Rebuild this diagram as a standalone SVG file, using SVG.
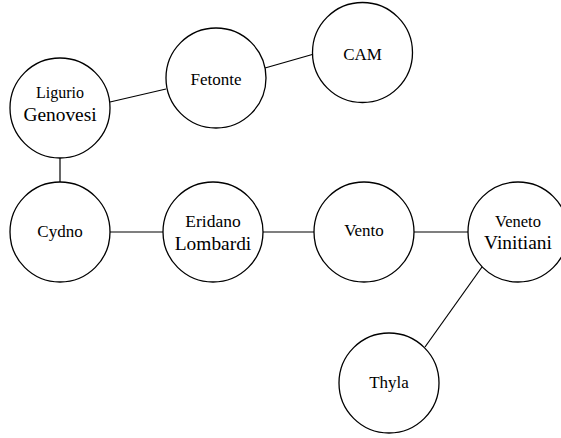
<svg xmlns="http://www.w3.org/2000/svg" width="561" height="438" viewBox="0 0 561 438">
<style>
.n{fill:#fff;stroke:#000;stroke-width:1.3}
.e{stroke:#000;stroke-width:1.2;fill:none}
text{font-family:'Liberation Serif','Times New Roman',serif;fill:#000;text-anchor:middle}
.s{font-size:17px}
.b{font-size:19.4px}
</style>
<rect width="561" height="438" fill="#fff"/>
<g id="edges">
<line class="e" x1="110" y1="102" x2="166" y2="89"/>
<line class="e" x1="265" y1="68" x2="314" y2="54"/>
<line class="e" x1="60" y1="158" x2="60" y2="182"/>
<line class="e" x1="110" y1="232" x2="163" y2="232"/>
<line class="e" x1="263" y1="232" x2="314" y2="232"/>
<line class="e" x1="414" y1="232" x2="468" y2="232"/>
<line class="e" x1="482" y1="267" x2="425" y2="347"/>
</g>
<g id="ligurio"><circle class="n" cx="60" cy="108" r="50"/><text x="60" y="98" font-size="16">Ligurio</text><text class="b" x="60" y="121">Genovesi</text></g>
<g id="fetonte"><circle class="n" cx="216" cy="78" r="50"/><text class="s" x="216" y="85">Fetonte</text></g>
<g id="cam"><circle class="n" cx="362.5" cy="52.5" r="50"/><text class="s" x="362.5" y="60">CAM</text></g>
<g id="cydno"><circle class="n" cx="60" cy="232" r="50"/><text class="s" x="60" y="237">Cydno</text></g>
<g id="eridano"><circle class="n" cx="213" cy="232" r="50"/><text x="213" y="227" font-size="17.5">Eridano</text><text class="b" x="213" y="250">Lombardi</text></g>
<g id="vento"><circle class="n" cx="364" cy="232" r="50"/><text class="s" x="364" y="236">Vento</text></g>
<g id="veneto"><circle class="n" cx="518" cy="232" r="50"/><text x="518" y="227" font-size="16.5">Veneto</text><text class="b" x="518" y="249">Vinitiani</text></g>
<g id="thyla"><circle class="n" cx="389" cy="383" r="50"/><text class="s" x="389" y="388">Thyla</text></g>
</svg>
